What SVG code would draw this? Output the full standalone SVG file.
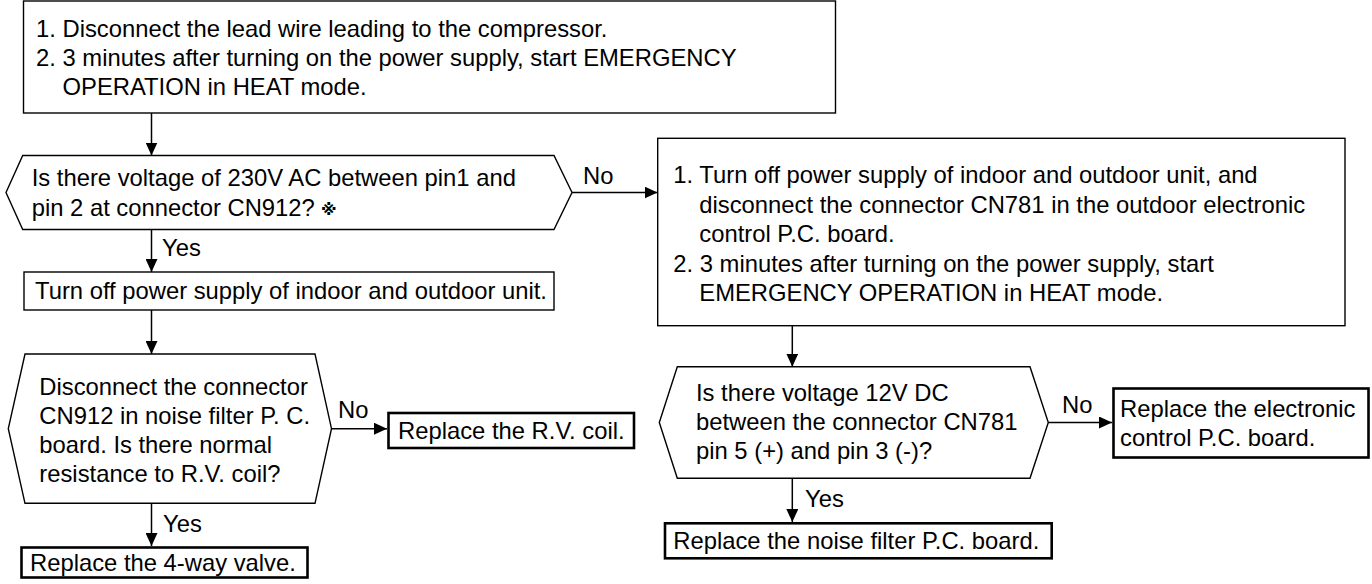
<svg xmlns="http://www.w3.org/2000/svg" width="1372" height="584" viewBox="0 0 1372 584">
  <style>
    .bg { fill: #ffffff; }
    .box { fill: #ffffff; stroke: #000000; stroke-width: 1.4; }
    .term { fill: #ffffff; stroke: #000000; stroke-width: 2.6; }
    .t { font-family: "Liberation Sans", Arial, sans-serif; font-size: 23.8px; fill: #000000; }
    .mark { font-family: "DejaVu Sans", "Noto Sans CJK JP", sans-serif; font-size: 16px; font-weight: bold; }
    .conn { stroke: #000000; stroke-width: 1.5; fill: none; marker-end: url(#arrow); }
  </style>
  <defs>
    <marker id="arrow" markerUnits="userSpaceOnUse" viewBox="0 0 13 12" refX="13" refY="6" markerWidth="13" markerHeight="12" orient="auto">
      <path d="M0,0 L13,6 L0,12 z" fill="#000000"/>
    </marker>
  </defs>
  <rect class="bg" x="0" y="0" width="1372" height="584"/>

  <g id="connectors">
    <line class="conn" x1="151.5" y1="113" x2="151.5" y2="155.5"/>
    <line class="conn" x1="572" y1="192.5" x2="657.5" y2="192.5"/>
    <line class="conn" x1="151.5" y1="229.5" x2="151.5" y2="272"/>
    <line class="conn" x1="151.5" y1="310" x2="151.5" y2="354"/>
    <line class="conn" x1="331.5" y1="428.7" x2="387" y2="428.7"/>
    <line class="conn" x1="151.5" y1="503.3" x2="151.5" y2="546"/>
    <line class="conn" x1="792.3" y1="325.7" x2="792.3" y2="366.7"/>
    <line class="conn" x1="1048.3" y1="422.5" x2="1112" y2="422.5"/>
    <line class="conn" x1="792.3" y1="478.3" x2="792.3" y2="522"/>
    <text class="t" x="583" y="184">No</text>
    <text class="t" x="162" y="256">Yes</text>
    <text class="t" x="338" y="418">No</text>
    <text class="t" x="163" y="532">Yes</text>
    <text class="t" x="1062" y="413">No</text>
    <text class="t" x="805" y="507">Yes</text>
  </g>

  <g id="start">
    <rect class="box" x="23.5" y="1" width="812" height="112"/>
    <text class="t" x="36" y="36.5">1. Disconnect the lead wire leading to the compressor.</text>
    <text class="t" x="36" y="65.5">2. 3 minutes after turning on the power supply, start EMERGENCY</text>
    <text class="t" x="62.5" y="94.5">OPERATION in HEAT mode.</text>
  </g>

  <g id="check-230v">
    <polygon class="box" points="6,192.5 22.7,155.5 554,155.5 572,192.5 554,229.5 22.7,229.5"/>
    <text class="t" x="31.7" y="186">Is there voltage of 230V AC between pin1 and</text>
    <text class="t" x="31.7" y="216">pin 2 at connector CN912?</text>
    <text class="t mark" x="321" y="215">※</text>
  </g>

  <g id="power-off">
    <rect class="box" x="24" y="272" width="530" height="38"/>
    <text class="t" x="35" y="299">Turn off power supply of indoor and outdoor unit.</text>
  </g>

  <g id="check-coil">
    <polygon class="box" points="8.3,428.7 25,354 315,354 331.5,428.7 315,503.3 25,503.3"/>
    <text class="t" x="39.3" y="394.5">Disconnect the connector</text>
    <text class="t" x="39.3" y="423.5">CN912 in noise filter P. C.</text>
    <text class="t" x="39.3" y="452.5">board. Is there normal</text>
    <text class="t" x="39.3" y="481.5">resistance to R.V. coil?</text>
  </g>

  <g id="replace-rv-coil">
    <rect class="term" x="388.5" y="413" width="245.5" height="35"/>
    <text class="t" x="398" y="439">Replace the R.V. coil.</text>
  </g>

  <g id="replace-4way">
    <rect class="term" x="21.5" y="547.5" width="286" height="30"/>
    <text class="t" x="30" y="571">Replace the 4-way valve.</text>
  </g>

  <g id="outdoor-check">
    <rect class="box" x="657.7" y="138.3" width="687.3" height="187.4"/>
    <text class="t" x="673.3" y="183">1. Turn off power supply of indoor and outdoor unit, and</text>
    <text class="t" x="699.3" y="212.5">disconnect the connector CN781 in the outdoor electronic</text>
    <text class="t" x="699.3" y="242">control P.C. board.</text>
    <text class="t" x="673.3" y="271.5">2. 3 minutes after turning on the power supply, start</text>
    <text class="t" x="699.3" y="301">EMERGENCY OPERATION in HEAT mode.</text>
  </g>

  <g id="check-12v">
    <polygon class="box" points="659.3,422.5 677.3,366.7 1030,366.7 1048.3,422.5 1030,478.3 677.3,478.3"/>
    <text class="t" x="696" y="401">Is there voltage 12V DC</text>
    <text class="t" x="696" y="430">between the connector CN781</text>
    <text class="t" x="696" y="459">pin 5 (+) and pin 3 (-)?</text>
  </g>

  <g id="replace-electronic">
    <rect class="term" x="1113.5" y="388.5" width="255" height="69"/>
    <text class="t" x="1120" y="416.8">Replace the electronic</text>
    <text class="t" x="1120" y="445.8">control P.C. board.</text>
  </g>

  <g id="replace-noise-filter">
    <rect class="term" x="665" y="523.3" width="386.7" height="35"/>
    <text class="t" x="673.3" y="549">Replace the noise filter P.C. board.</text>
  </g>
</svg>
